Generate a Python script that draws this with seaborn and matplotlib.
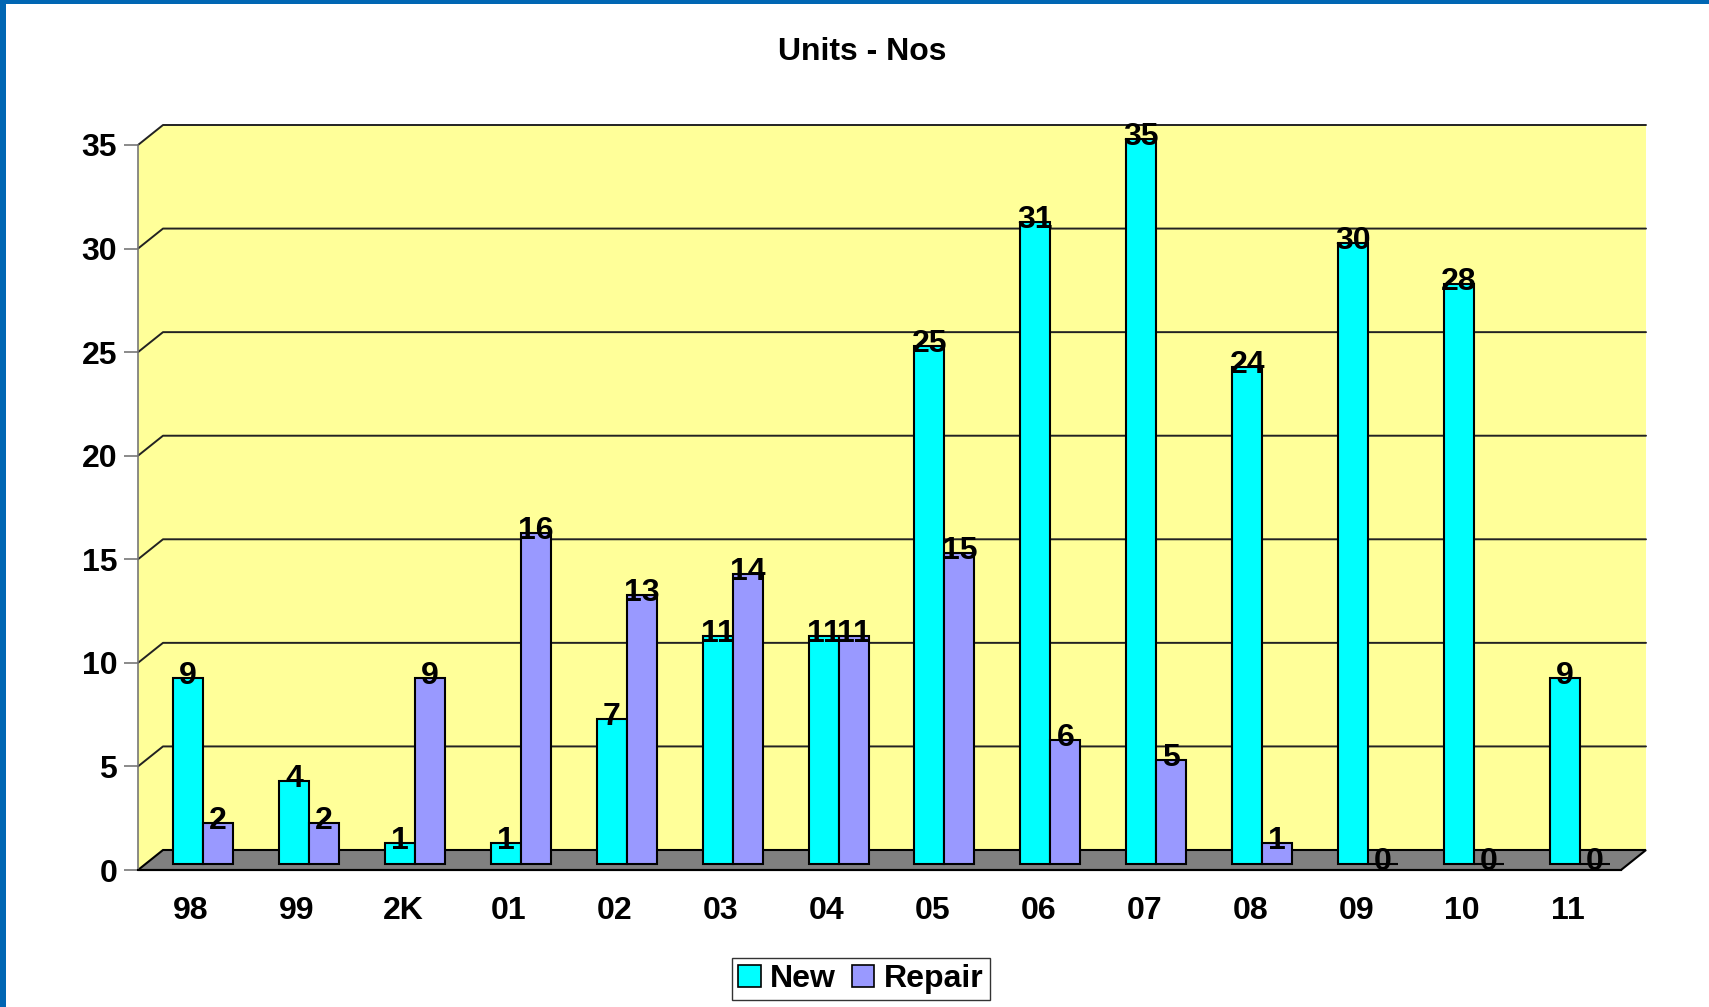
import numpy as np
import pandas as pd
import seaborn as sns
import matplotlib.pyplot as plt
from matplotlib.patches import Polygon, Rectangle, Patch
from matplotlib.transforms import ScaledTranslation

years = ["98", "99", "2K", "01", "02", "03", "04", "05", "06", "07", "08", "09", "10", "11"]
new_units = [9, 4, 1, 1, 7, 11, 11, 25, 31, 35, 24, 30, 28, 9]
repair_units = [2, 2, 9, 16, 13, 14, 11, 15, 6, 5, 1, 0, 0, 0]
series = ["New", "Repair"]
colors = ["#00FFFF", "#9999FF"]

df = pd.DataFrame({
    "year": years * 2,
    "units": new_units + repair_units,
    "type": [series[0]] * len(years) + [series[1]] * len(years),
})

sns.set_style("white")
plt.rcParams["font.family"] = ["Liberation Sans", "DejaVu Sans"]
plt.rcParams["font.weight"] = "bold"
plt.rcParams["text.color"] = "black"
plt.rcParams["xtick.color"] = "black"
plt.rcParams["ytick.color"] = "black"

W, H = 1709, 1007
fig = plt.figure(figsize=(W / 100, H / 100), dpi=100)
# front plane of the pseudo-3D box, in pixels
left, right, y0, y35 = 138, 1621, 870, 145
ax = fig.add_axes([left / W, 1 - y0 / H, (right - left) / W, (y0 - y35) / H])
ax.set_facecolor("none")

ymax = 35
dxf = 25 / (right - left)          # depth, axes fraction
dyd = ymax * 20 / (y0 - y35)       # depth, data units
yt = ax.get_yaxis_transform()

# back + side wall
wall = Polygon([(0, 0), (0, ymax), (dxf, ymax + dyd), (1 + dxf, ymax + dyd),
                (1 + dxf, dyd), (1, 0)], closed=True, transform=yt,
               facecolor="#FFFF99", edgecolor="none", zorder=0, clip_on=False)
ax.add_patch(wall)
for v in range(5, ymax + 1, 5):
    ax.plot([0, dxf, 1 + dxf], [v, v + dyd, v + dyd], transform=yt,
            color="#222222", lw=1.4, zorder=0.5, clip_on=False)
floor = Polygon([(0, 0), (1, 0), (1 + dxf, dyd), (dxf, dyd)], closed=True,
                transform=yt, facecolor="#808080", edgecolor="black", lw=1.5,
                zorder=0.6, clip_on=False)
ax.add_patch(floor)

sns.barplot(data=df, x="year", y="units", hue="type", palette=colors,
            saturation=1, width=0.566, gap=0, edgecolor="black", linewidth=1.5,
            legend=False, ax=ax, zorder=2)

shift = ax.transData + ScaledTranslation(0.12, 0.06, fig.dpi_scale_trans)
lab_shift = ax.transData + ScaledTranslation(0.12, 0.08, fig.dpi_scale_trans)
for p in ax.patches:
    if p in (wall, floor):
        continue
    p.set_transform(shift)
    p.set_clip_on(False)
    h = p.get_height()
    if np.isnan(h):
        continue
    ax.text(p.get_x() + p.get_width() / 2, h, f"{int(h)}", transform=lab_shift,
            ha="center", va="center", fontsize=23, fontweight="bold",
            color="black", zorder=5, clip_on=False)

ax.set_xlim(-0.5, len(years) - 0.5)
ax.set_ylim(0, ymax)
ax.set_yticks(range(0, ymax + 1, 5))
ax.set_xlabel("")
ax.set_ylabel("")
ax.set_xticks(range(len(years)))
ax.set_xticklabels(years)
ax.set_xticks(np.arange(-0.5, len(years), 1), minor=True)
ax.tick_params(axis="x", which="major", length=0, pad=19, labelsize=23, labelcolor="black")
ax.tick_params(axis="x", which="minor", length=10, width=1.2, color="black", direction="out")
ax.tick_params(axis="y", length=10, width=1.2, color="#777777", pad=5, labelsize=23,
               labelcolor="black", left=True)
for lbl in ax.get_xticklabels() + ax.get_yticklabels():
    lbl.set_fontweight("bold")
ax.grid(False)
for s in ["top", "right"]:
    ax.spines[s].set_visible(False)
ax.spines["left"].set_color("#777777")
ax.spines["left"].set_linewidth(1.2)
ax.spines["bottom"].set_color("black")
ax.spines["bottom"].set_linewidth(1.5)
ax.spines["left"].set_zorder(0.7)

fig.text(862 / W, 1 - 52 / H, "Units - Nos", ha="center", va="center",
         fontsize=23, fontweight="bold", color="black")

handles = [Patch(facecolor=c, edgecolor="black", lw=1.2) for c in colors]
leg = fig.legend(handles, series, loc="center", bbox_to_anchor=(861 / W, 1 - 979 / H),
                 ncol=2, frameon=True, fancybox=False, edgecolor="black",
                 prop={"weight": "bold", "size": 23}, handlelength=0.7, handleheight=0.7,
                 handletextpad=0.3, columnspacing=0.5, borderpad=0.2, borderaxespad=0)
for t in leg.get_texts():
    t.set_color("black")

# blue window frame
fig.patches.append(Rectangle((0, 0), 6 / W, 1, transform=fig.transFigure,
                             facecolor="#0066B3", edgecolor="none"))
fig.patches.append(Rectangle((0, 1 - 4 / H), 1, 4 / H, transform=fig.transFigure,
                             facecolor="#0066B3", edgecolor="none"))

fig.savefig("out.png", dpi=100)
